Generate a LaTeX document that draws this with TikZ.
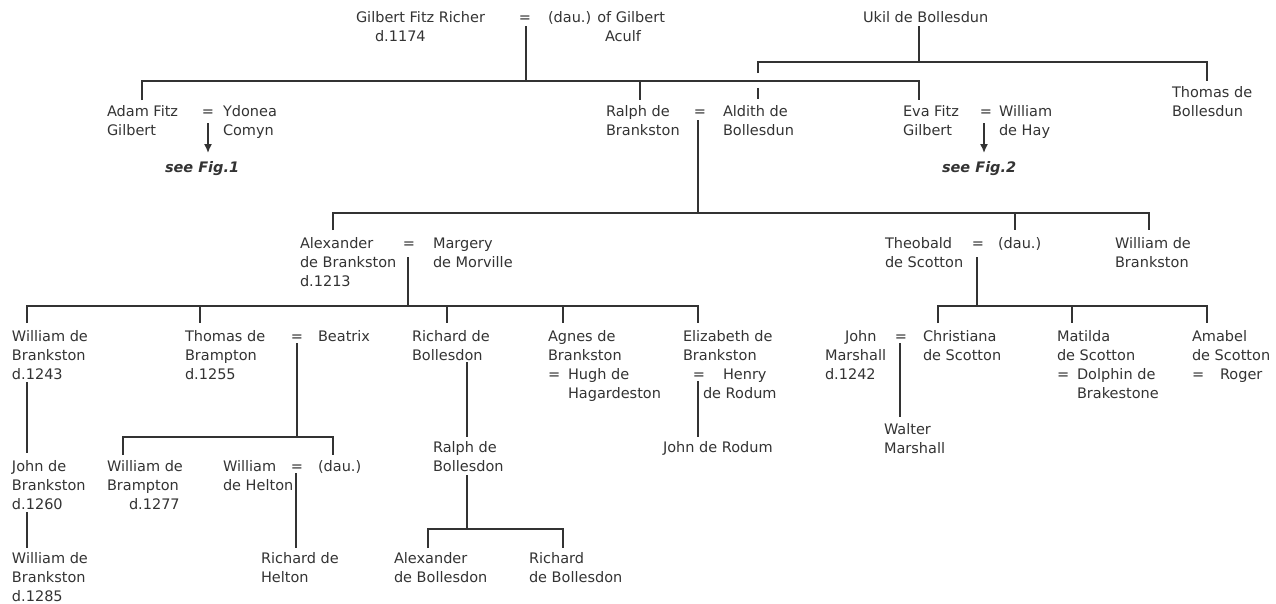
\documentclass[tikz,border=0pt]{standalone}
\usepackage{fontspec}
\setmainfont{DejaVu Sans}
\usetikzlibrary{arrows.meta}
\definecolor{ink}{RGB}{51,51,51}
\begin{document}
\begin{tikzpicture}[x=1pt,y=-1pt,
  every node/.style={inner sep=0pt,outer sep=0pt,text=ink,font=\fontsize{14.5}{19}\selectfont},
  person/.style={anchor=base west,align=left},
  two/.style={yshift=-19pt},
  three/.style={yshift=-38pt},
  four/.style={yshift=-57pt},
  eqsign/.style={anchor=base},
  seefig/.style={anchor=base west,font=\fontsize{14.5}{19}\selectfont\bfseries\itshape},
  link/.style={draw=ink,line width=1.5pt},
  arr/.style={draw=ink,line width=1.5pt,-{Latex[length=9pt,width=8pt]}}]
\useasboundingbox (0,0) rectangle (1276,603);

% ---------- generation 1
\node[person,two] (gilbert) at (356,22) {Gilbert Fitz Richer\\\hspace*{19pt}d.1174};
\node[eqsign] (eqg) at (525,22) {=};
\node[person,two] (aculf) at (548,22) {(dau.) of Gilbert\\\hspace*{57pt}Aculf};
\node[person] (ukil) at (863,22) {Ukil de Bollesdun};

% ---------- generation 2
\node[person,two] (adam) at (107,116) {Adam Fitz\\Gilbert};
\node[eqsign] (eqa) at (208,116) {=};
\node[person,two] (ydonea) at (223,116) {Ydonea\\Comyn};
\node[seefig] (fig1) at (165,172) {see Fig.1};
\node[person,two] (ralph) at (606,116) {Ralph de\\Brankston};
\node[eqsign] (eqr) at (700,116) {=};
\node[person,two] (aldith) at (723,116) {Aldith de\\Bollesdun};
\node[person,two] (eva) at (903,116) {Eva Fitz\\Gilbert};
\node[eqsign] (eqe) at (986,116) {=};
\node[person,two] (hay) at (999,116) {William\\de Hay};
\node[seefig] (fig2) at (942,172) {see Fig.2};
\node[person,two] (thomasb) at (1172,97) {Thomas de\\Bollesdun};

% ---------- generation 3
\node[person,three] (alex) at (300,248) {Alexander\\de Brankston\\d.1213};
\node[eqsign] (eqx) at (409,248) {=};
\node[person,two] (margery) at (433,248) {Margery\\de Morville};
\node[person,two] (theo) at (885,248) {Theobald\\de Scotton};
\node[eqsign] (eqt) at (978,248) {=};
\node[person] (daut) at (998,248) {(dau.)};
\node[person,two] (willb) at (1115,248) {William de\\Brankston};

% ---------- generation 4
\node[person,three] (will1243) at (12,341) {William de\\Brankston\\d.1243};
\node[person,three] (thomasbr) at (185,341) {Thomas de\\Brampton\\d.1255};
\node[eqsign] (eqtb) at (297,341) {=};
\node[person] (beatrix) at (318,341) {Beatrix};
\node[person,two] (richb) at (412,341) {Richard de\\Bollesdon};
\node[person,four] (agnes) at (548,341) {Agnes de\\Brankston\\\makebox[20pt][l]{=}Hugh de\\\hspace*{20pt}Hagardeston};
\node[person,two] (eliz) at (683,341) {Elizabeth de\\Brankston};
\node[eqsign] (eqel) at (699,379) {=};
\node[person,two] (henry) at (703,379) {\hspace*{20pt}Henry\\de Rodum};
\node[person,three] (johnm) at (825,341) {\hspace*{20pt}John\\Marshall\\d.1242};
\node[eqsign] (eqj) at (901,341) {=};
\node[person,two] (christ) at (923,341) {Christiana\\de Scotton};
\node[person,four] (matilda) at (1057,341) {Matilda\\de Scotton\\\makebox[20pt][l]{=}Dolphin de\\\hspace*{20pt}Brakestone};
\node[person,three] (amabel) at (1192,341) {Amabel\\de Scotton\\\makebox[28pt][l]{=}Roger};

% ---------- generation 5
\node[person,three] (john1260) at (12,471) {John de\\Brankston\\d.1260};
\node[person,three] (willbr) at (107,471) {William de\\Brampton\\\hspace*{22pt}d.1277};
\node[person,two] (willh) at (223,471) {William\\de Helton};
\node[eqsign] (eqwh) at (297,471) {=};
\node[person] (dauh) at (318,471) {(dau.)};
\node[person,two] (ralphb) at (433,452) {Ralph de\\Bollesdon};
\node[person] (johnr) at (663,452) {John de Rodum};
\node[person,two] (walter) at (884,434) {Walter\\Marshall};

% ---------- generation 6
\node[person,three] (will1285) at (12,563) {William de\\Brankston\\d.1285};
\node[person,two] (richh) at (261,563) {Richard de\\Helton};
\node[person,two] (alexb) at (394,563) {Alexander\\de Bollesdon};
\node[person,two] (richbb) at (529,563) {Richard\\de Bollesdon};

% ---------- connector coordinates
\coordinate (g0) at (526,26);   \coordinate (g1) at (526,81);
\coordinate (gL) at (142,81);   \coordinate (gR) at (919,81);
\coordinate (adamT) at (142,100); \coordinate (ralphS) at (640,81); \coordinate (ralphT) at (640,100);
\coordinate (evaT) at (919,100);
\coordinate (u0) at (919,26);   \coordinate (u1) at (919,62);
\coordinate (uL) at (758,62);   \coordinate (uR) at (1207,62);
\coordinate (thbT) at (1207,81);
\coordinate (alA) at (758,73);  \coordinate (alB) at (758,88); \coordinate (aldT) at (758,99);
\coordinate (a1a) at (208,123); \coordinate (a1b) at (208,153);
\coordinate (a2a) at (984,123); \coordinate (a2b) at (984,153);

\coordinate (r0) at (698,120);  \coordinate (r1) at (698,213);
\coordinate (rL) at (333,213);  \coordinate (rR) at (1149,213);
\coordinate (alexT) at (333,230); \coordinate (theoS) at (1015,213); \coordinate (theoT) at (1015,230);
\coordinate (willbT) at (1149,230);

\coordinate (x0) at (408,257);  \coordinate (x1) at (408,306);
\coordinate (xL) at (27,306);   \coordinate (xR) at (698,306);
\coordinate (w43T) at (27,323);
\coordinate (tbS) at (200,306); \coordinate (tbT) at (200,323);
\coordinate (rbS) at (447,306); \coordinate (rbT) at (447,323);
\coordinate (agS) at (563,306); \coordinate (agT) at (563,323);
\coordinate (elT) at (698,323);

\coordinate (t0) at (977,257);  \coordinate (t1) at (977,306);
\coordinate (tL) at (938,306);  \coordinate (tR) at (1207,306);
\coordinate (chT) at (938,323); \coordinate (maS) at (1072,306); \coordinate (maT) at (1072,323);
\coordinate (amT) at (1207,323);

\coordinate (w43B) at (27,382); \coordinate (j60T) at (27,453);
\coordinate (j60B) at (27,512); \coordinate (w85T) at (27,548);

\coordinate (b0) at (297,343);  \coordinate (b1) at (297,437);
\coordinate (bL) at (123,437);  \coordinate (bR) at (333,437);
\coordinate (wbT) at (123,455); \coordinate (dhT) at (333,455);
\coordinate (h0) at (296,473);  \coordinate (h1) at (296,548);

\coordinate (rb0) at (467,362); \coordinate (rb1) at (467,437);
\coordinate (rb2) at (467,475); \coordinate (rb3) at (467,529);
\coordinate (rbL) at (428,529); \coordinate (rbR) at (563,529);
\coordinate (abT) at (428,548); \coordinate (rrT) at (563,548);

\coordinate (e0) at (698,381);  \coordinate (e1) at (698,437);
\coordinate (m0) at (900,343);  \coordinate (m1) at (900,417);

% ---------- connectors
\draw[link] (g0) -- (g1);
\draw[link] (adamT) -- (gL) -- (gR) -- (evaT);
\draw[link] (ralphS) -- (ralphT);
\draw[link] (u0) -- (u1);
\draw[link] (alA) -- (uL) -- (uR) -- (thbT);
\draw[link] (alB) -- (aldT);
\draw[arr] (a1a) -- (a1b);
\draw[arr] (a2a) -- (a2b);

\draw[link] (r0) -- (r1);
\draw[link] (alexT) -- (rL) -- (rR) -- (willbT);
\draw[link] (theoS) -- (theoT);

\draw[link] (x0) -- (x1);
\draw[link] (w43T) -- (xL) -- (xR) -- (elT);
\draw[link] (tbS) -- (tbT);
\draw[link] (rbS) -- (rbT);
\draw[link] (agS) -- (agT);

\draw[link] (t0) -- (t1);
\draw[link] (chT) -- (tL) -- (tR) -- (amT);
\draw[link] (maS) -- (maT);

\draw[link] (w43B) -- (j60T);
\draw[link] (j60B) -- (w85T);

\draw[link] (b0) -- (b1);
\draw[link] (wbT) -- (bL) -- (bR) -- (dhT);
\draw[link] (h0) -- (h1);

\draw[link] (rb0) -- (rb1);
\draw[link] (rb2) -- (rb3);
\draw[link] (abT) -- (rbL) -- (rbR) -- (rrT);

\draw[link] (e0) -- (e1);
\draw[link] (m0) -- (m1);
\end{tikzpicture}
\end{document}
